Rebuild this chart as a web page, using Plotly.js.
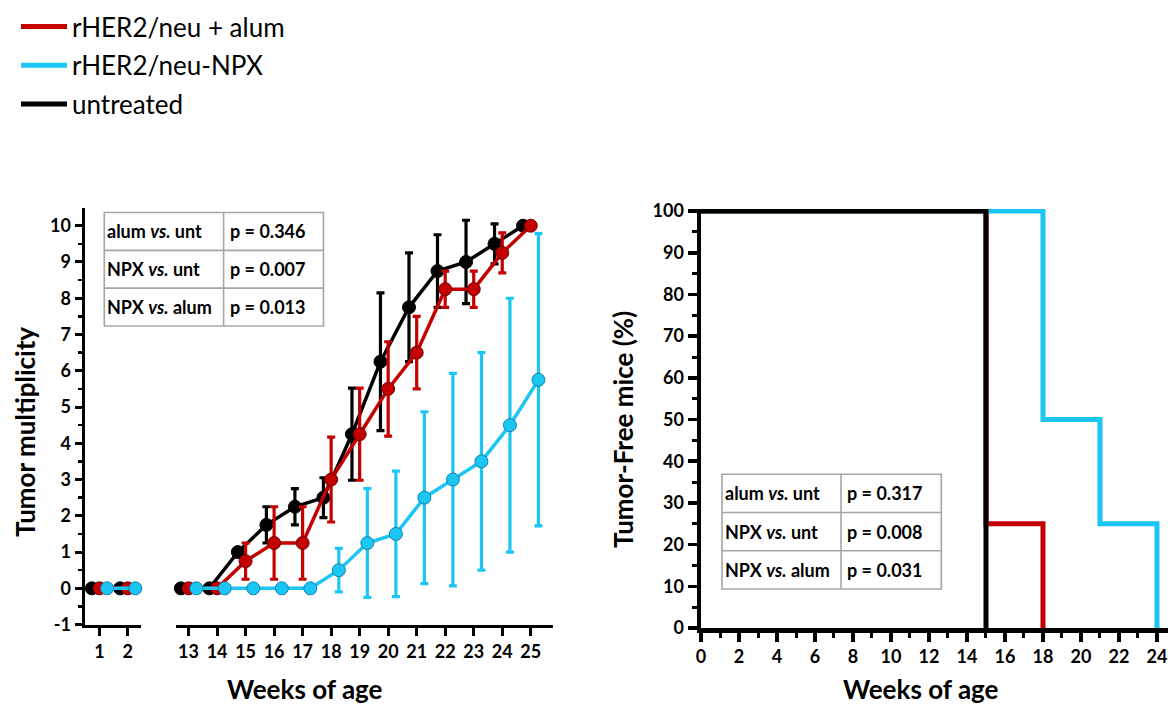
<!DOCTYPE html>
<html>
<head>
<meta charset="utf-8">
<script src="https://cdn.plot.ly/plotly-3.0.1.min.js"></script>
<style>html,body{margin:0;padding:0;background:#fff;}#chart{width:1168px;height:706px;}</style>
</head>
<body>
<div id="chart"></div>
<script>
// ---------- data ----------
const seriesNames = ['rHER2/neu + alum', 'rHER2/neu-NPX', 'untreated'];

// Tumor multiplicity (left panel)
const weeksEarly = [1, 2];
const weeksLate = [13, 14, 15, 16, 17, 18, 19, 20, 21, 22, 23, 24, 25];

const untreatedEarly = [0, 0];
const alumEarly = [0, 0];
const npxEarly = [0, 0];

const untreatedLate    = [0, 0, 1.0, 1.75, 2.25, 2.5, 4.25, 6.25, 7.75, 8.75, 9.0, 9.5, 10];
const untreatedLateErr = [0, 0, 0,   0.5,  0.5,  0.55, 1.27, 1.9, 1.5, 1.0, 1.15, 0.55, 0];
const alumLate         = [0, 0, 0.75, 1.25, 1.25, 3.0, 4.25, 5.5, 6.5, 8.25, 8.25, 9.25, 10];
const alumLateErr      = [0, 0, 0.5,  1.0,  1.0,  1.17, 1.27, 1.3, 1.0, 0.5, 0.5, 0.55, 0];
const npxLate          = [0, 0, 0, 0, 0, 0.5, 1.25, 1.5, 2.5, 3.0, 3.5, 4.5, 5.75];
const npxLateErr       = [0, 0, 0, 0, 0, 0.6, 1.5, 1.73, 2.37, 2.93, 3.0, 3.5, 4.03];

// Tumor-free survival (right panel)
const alumKmWeeks = [0, 15, 18];
const alumKmPct   = [100, 25, 0];
const npxKmWeeks  = [0, 18, 21, 24];
const npxKmPct    = [100, 50, 25, 0];
const untKmWeeks  = [0, 15];
const untKmPct    = [100, 0];

// Statistics tables
const leftComparisons  = ['alum <i>vs.</i> unt', 'NPX <i>vs.</i> unt', 'NPX <i>vs.</i> alum'];
const leftPValues      = ['p = 0.346', 'p = 0.007', 'p = 0.013'];
const rightComparisons = ['alum <i>vs.</i> unt', 'NPX <i>vs.</i> unt', 'NPX <i>vs.</i> alum'];
const rightPValues     = ['p = 0.317', 'p = 0.008', 'p = 0.031'];

// Tick labels
const yTicksLeft  = [-1, 0, 1, 2, 3, 4, 5, 6, 7, 8, 9, 10];
const xTicksRight = [0, 2, 4, 6, 8, 10, 12, 14, 16, 18, 20, 22, 24];
const yTicksRight = [0, 10, 20, 30, 40, 50, 60, 70, 80, 90, 100];

// ---------- style ----------
const RED = '#C40000', CYAN = '#1CC6F4', BLACK = '#000000';
const FONT = 'Lato, "Open Sans", sans-serif';
const W = 1168, H = 706;
const px = v => v / W;
const py = v => 1 - v / H;
const dodge = {untreated: -0.27, alum: 0, npx: 0.27};

function shift(arr, d) { return arr.map(v => v + d); }
function boldLabels(arr) { return arr.map(v => '<b>' + v + '</b>'); }

function multTrace(x, y, err, color, edge, xaxis) {
  return {
    type: 'scatter', mode: 'lines+markers', x: x, y: y,
    xaxis: xaxis, yaxis: 'y', showlegend: false, cliponaxis: false,
    line: {color: color, width: 3.5},
    marker: {color: color, size: 13, line: {color: edge, width: 1}},
    error_y: err ? {type: 'data', array: err, symmetric: true, color: color, thickness: 3.2, width: 4} : undefined,
    hoverinfo: 'x+y'
  };
}

const traces = [
  multTrace(shift(weeksEarly, dodge.untreated), untreatedEarly, null, BLACK, '#000', 'x'),
  multTrace(shift(weeksEarly, dodge.alum), alumEarly, null, RED, '#6e0000', 'x'),
  multTrace(shift(weeksEarly, dodge.npx), npxEarly, null, CYAN, '#1580a8', 'x'),
  multTrace(shift(weeksLate, dodge.untreated), untreatedLate, untreatedLateErr, BLACK, '#000', 'x2'),
  multTrace(shift(weeksLate, dodge.alum), alumLate, alumLateErr, RED, '#6e0000', 'x2'),
  multTrace(shift(weeksLate, dodge.npx), npxLate, npxLateErr, CYAN, '#1580a8', 'x2'),
  {type: 'scatter', mode: 'lines', name: seriesNames[0], x: alumKmWeeks, y: alumKmPct,
   xaxis: 'x3', yaxis: 'y3', line: {color: RED, width: 5, shape: 'hv'}, legendgroup: 'a'},
  {type: 'scatter', mode: 'lines', name: seriesNames[1], x: npxKmWeeks, y: npxKmPct,
   xaxis: 'x3', yaxis: 'y3', line: {color: CYAN, width: 5, shape: 'hv'}, legendgroup: 'b'},
  {type: 'scatter', mode: 'lines', name: seriesNames[2], x: untKmWeeks, y: untKmPct,
   xaxis: 'x3', yaxis: 'y3', line: {color: BLACK, width: 5, shape: 'hv'}, legendgroup: 'c'}
];

const tickFont = {family: FONT, size: 18, color: '#000', weight: 700};
const axBase = {
  showline: true, linecolor: '#000', showgrid: false, zeroline: false,
  ticks: 'outside', tickcolor: '#000', tickfont: tickFont, fixedrange: true, tickmode: 'array'
};

const layout = {
  width: W, height: H,
  margin: {l: 0, r: 0, t: 0, b: 0, pad: 0},
  paper_bgcolor: '#fff', plot_bgcolor: 'rgba(0,0,0,0)',
  font: {family: FONT, color: '#000'},
  showlegend: true,
  legend: {
    x: px(16), y: py(3), xanchor: 'left', yanchor: 'top',
    font: {family: FONT, size: 26, color: '#000'},
    traceorder: 'grouped', tracegroupgap: 2, itemwidth: 46,
    bgcolor: 'rgba(0,0,0,0)', borderwidth: 0
  },
  xaxis: Object.assign({}, axBase, {
    domain: [px(85), px(141)], range: [0.488, 2.47], anchor: 'y',
    tickvals: weeksEarly, ticktext: boldLabels(weeksEarly),
    linewidth: 3.5, ticklen: 8, tickwidth: 3
  }),
  xaxis2: Object.assign({}, axBase, {
    domain: [px(176), px(553)], range: [12.56, 25.78], anchor: 'y',
    tickvals: weeksLate, ticktext: boldLabels(weeksLate),
    linewidth: 3.5, ticklen: 8, tickwidth: 3
  }),
  yaxis: Object.assign({}, axBase, {
    domain: [py(624.6), py(208.3)], range: [-1, 10.48], anchor: 'x',
    tickvals: yTicksLeft, ticktext: boldLabels(yTicksLeft),
    linewidth: 3.5, ticklen: 7, tickwidth: 3,
    minor: {tickmode: 'array', tickvals: [-0.5, 0.5, 1.5, 2.5, 3.5, 4.5, 5.5, 6.5, 7.5, 8.5, 9.5], ticks: 'outside', ticklen: 4, tickwidth: 2.5, tickcolor: '#000', showgrid: false}
  }),
  xaxis3: Object.assign({}, axBase, {
    domain: [px(701), 1], range: [0, 24.58], anchor: 'y3',
    tickvals: xTicksRight, ticktext: boldLabels(xTicksRight),
    linewidth: 4.5, ticklen: 9, tickwidth: 3.5,
    minor: {tickmode: 'array', tickvals: [1, 3, 5, 7, 9, 11, 13, 15, 17, 19, 21, 23], ticks: 'outside', ticklen: 5, tickwidth: 3, tickcolor: '#000', showgrid: false}
  }),
  yaxis3: Object.assign({}, axBase, {
    domain: [py(628), py(209)], range: [0, 100.5], anchor: 'x3',
    tickvals: yTicksRight, ticktext: boldLabels(yTicksRight),
    linewidth: 4.5, ticklen: 9, tickwidth: 3.5,
    minor: {tickmode: 'array', tickvals: [5, 15, 25, 35, 45, 55, 65, 75, 85, 95], ticks: 'outside', ticklen: 5, tickwidth: 3, tickcolor: '#000', showgrid: false}
  }),
  shapes: [],
  annotations: []
};

// axis titles
const titleFont = {family: FONT, size: 26, color: '#000', weight: 'bold'};
layout.annotations.push(
  {xref: 'paper', yref: 'paper', x: px(25), y: py(432), text: '<b>Tumor multiplicity</b>', textangle: -90,
   showarrow: false, font: titleFont, xanchor: 'center', yanchor: 'middle'},
  {xref: 'paper', yref: 'paper', x: px(305), y: py(689), text: '<b>Weeks of age</b>',
   showarrow: false, font: titleFont, xanchor: 'center', yanchor: 'middle'},
  {xref: 'paper', yref: 'paper', x: px(623), y: py(430), text: '<b>Tumor-Free mice (%)</b>', textangle: -90,
   showarrow: false, font: titleFont, xanchor: 'center', yanchor: 'middle'},
  {xref: 'paper', yref: 'paper', x: px(921), y: py(689), text: '<b>Weeks of age</b>',
   showarrow: false, font: titleFont, xanchor: 'center', yanchor: 'middle'}
);

// statistics tables
function addTable(box, comps, pvals) {
  const [x0, x1, xd, y0, y1] = box;
  const border = {color: '#A6A6A6', width: 1.6};
  layout.shapes.push({type: 'rect', xref: 'paper', yref: 'paper', x0: px(x0), x1: px(x1), y0: py(y0), y1: py(y1), line: border, fillcolor: '#fff', layer: 'below'});
  layout.shapes.push({type: 'line', xref: 'paper', yref: 'paper', x0: px(xd), x1: px(xd), y0: py(y0), y1: py(y1), line: border});
  const rowH = (y1 - y0) / comps.length;
  for (let i = 1; i < comps.length; i++) {
    const yy = y0 + rowH * i;
    layout.shapes.push({type: 'line', xref: 'paper', yref: 'paper', x0: px(x0), x1: px(x1), y0: py(yy), y1: py(yy), line: border});
  }
  comps.forEach((c, i) => {
    const yc = y0 + rowH * (i + 0.5);
    layout.annotations.push({xref: 'paper', yref: 'paper', x: px(x0 + 1), y: py(yc), xanchor: 'left', yanchor: 'middle',
      text: '<b>' + c + '</b>', showarrow: false, font: {family: FONT, size: 18, color: '#000'}});
    layout.annotations.push({xref: 'paper', yref: 'paper', x: px(xd + 4), y: py(yc), xanchor: 'left', yanchor: 'middle',
      text: '<b>' + pvals[i] + '</b>', showarrow: false, font: {family: FONT, size: 18, color: '#000'}});
  });
}
addTable([104.3, 323.5, 223.6, 212.5, 326], leftComparisons, leftPValues);
addTable([722, 941.3, 841, 474.3, 589], rightComparisons, rightPValues);

Plotly.newPlot('chart', traces, layout, {displayModeBar: false, staticPlot: true});
</script>
</body>
</html>
